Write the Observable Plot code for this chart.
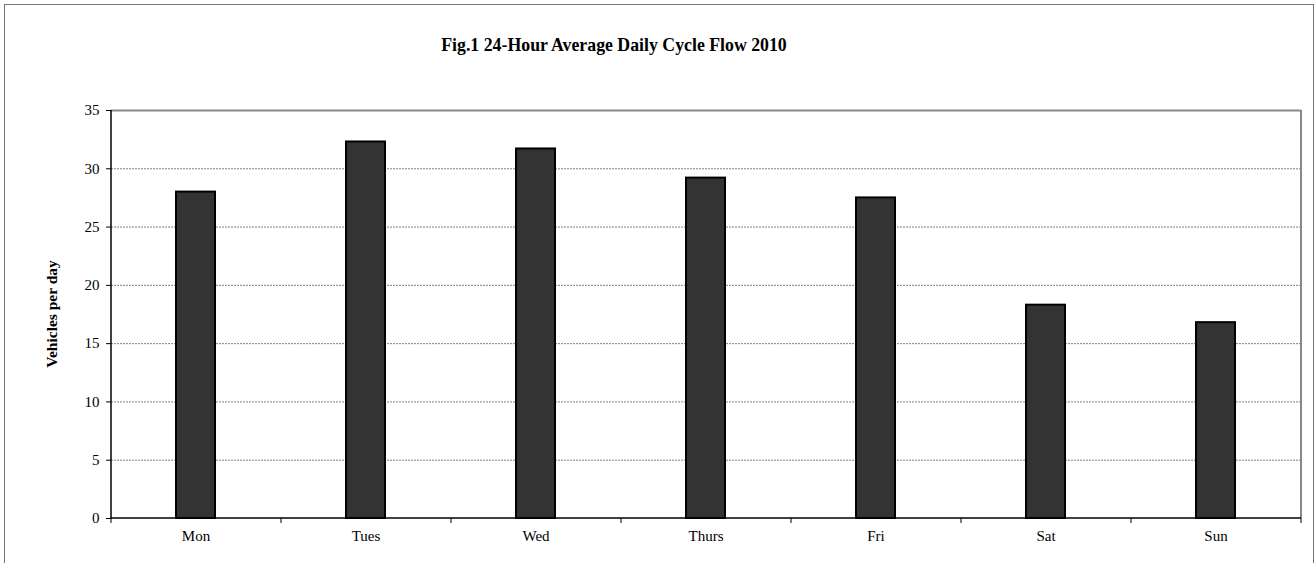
<!DOCTYPE html>
<html>
<head>
<meta charset="utf-8">
<script src="https://cdn.jsdelivr.net/npm/d3@7"></script>
<script src="https://cdn.jsdelivr.net/npm/@observablehq/plot@0.6"></script>
<style>
  html, body { margin: 0; padding: 0; background: #fff; }
  #wrap { position: relative; width: 1316px; height: 563px; overflow: hidden; }
  #border { position: absolute; left: 4px; top: 4px; width: 1310px; height: 600px; border: 1px solid #777; box-sizing: border-box; pointer-events: none; }
  #title { position: absolute; left: 0; top: 35px; width: 1228px; text-align: center; line-height: 20px;
           font-family: "Liberation Serif", "Times New Roman", serif; font-weight: bold; font-size: 17.8px; color: #000; }
  #chart { position: absolute; left: 0; top: 0; }
</style>
</head>
<body>
<div id="wrap">
  <div id="chart"></div>
  <div id="title">Fig.1 24-Hour Average Daily Cycle Flow 2010</div>
  <div id="border"></div>
</div>
<script>
const days = ["Mon", "Tues", "Wed", "Thurs", "Fri", "Sat", "Sun"];
const flows = [28.0, 32.3, 31.7, 29.2, 27.5, 18.3, 16.8];
const yTicks = [0, 5, 10, 15, 20, 25, 30, 35];
const gridTicks = [5, 10, 15, 20, 25, 30];
const yLabel = "Vehicles per day";

const data = days.map((d, i) => ({day: d, value: flows[i]}));

const W = 1316, H = 563;
const mL = 111, mR = 15, mT = 110, mB = 45;

const frameAndTicks = (index, scales, values, dims) => {
  const g = d3.create("svg:g");
  const left = dims.marginLeft, right = dims.width - dims.marginRight;
  const top = dims.marginTop, bottom = dims.height - dims.marginBottom;
  const step = (right - left) / days.length;
  g.append("line").attr("x1", right).attr("x2", right).attr("y1", top).attr("y2", bottom)
    .attr("stroke", "#888").attr("stroke-width", 2);
  g.append("line").attr("x1", left).attr("x2", left).attr("y1", top).attr("y2", bottom + 0.5)
    .attr("stroke", "#000").attr("stroke-width", 1.5);
  g.append("line").attr("x1", left).attr("x2", right).attr("y1", bottom).attr("y2", bottom)
    .attr("stroke", "#000").attr("stroke-width", 1.5);
  for (let i = 0; i <= days.length; i++) {
    const x = left + i * step;
    g.append("line").attr("x1", x).attr("x2", x).attr("y1", bottom).attr("y2", bottom + 5)
      .attr("stroke", "#000").attr("stroke-width", 1);
  }
  g.append("text")
    .attr("transform", `translate(${left - 58},${(top + bottom) / 2}) rotate(-90)`)
    .attr("text-anchor", "middle")
    .attr("dominant-baseline", "middle")
    .attr("font-weight", "bold")
    .attr("font-size", 15.5)
    .attr("font-family", "'Liberation Serif', 'Times New Roman', serif")
    .text(yLabel);
  return g.node();
};

const chart = Plot.plot({
  width: W,
  height: H,
  marginLeft: mL,
  marginRight: mR,
  marginTop: mT,
  marginBottom: mB,
  style: {fontFamily: "'Liberation Serif', 'Times New Roman', serif", fontSize: "15px", background: "transparent", color: "#000"},
  x: {type: "band", domain: days, paddingInner: 0.77, paddingOuter: 0.385, label: null},
  y: {domain: [0, 35], label: null},
  marks: [
    Plot.gridY(gridTicks, {stroke: "#808080", strokeOpacity: 1, strokeWidth: 1, strokeDasharray: "2,1"}),
    Plot.ruleY([35], {stroke: "#888", strokeWidth: 2}),
    Plot.barY(data, {x: "day", y: "value", fill: "#333333", stroke: "#000", strokeWidth: 2}),
    Plot.axisY({ticks: yTicks, tickSize: 5, tickPadding: 7, label: null, fontSize: 15}),
    Plot.axisX({tickSize: 0, tickPadding: 12, label: null, fontSize: 15}),
    frameAndTicks
  ]
});
document.getElementById("chart").appendChild(chart);
</script>
</body>
</html>
